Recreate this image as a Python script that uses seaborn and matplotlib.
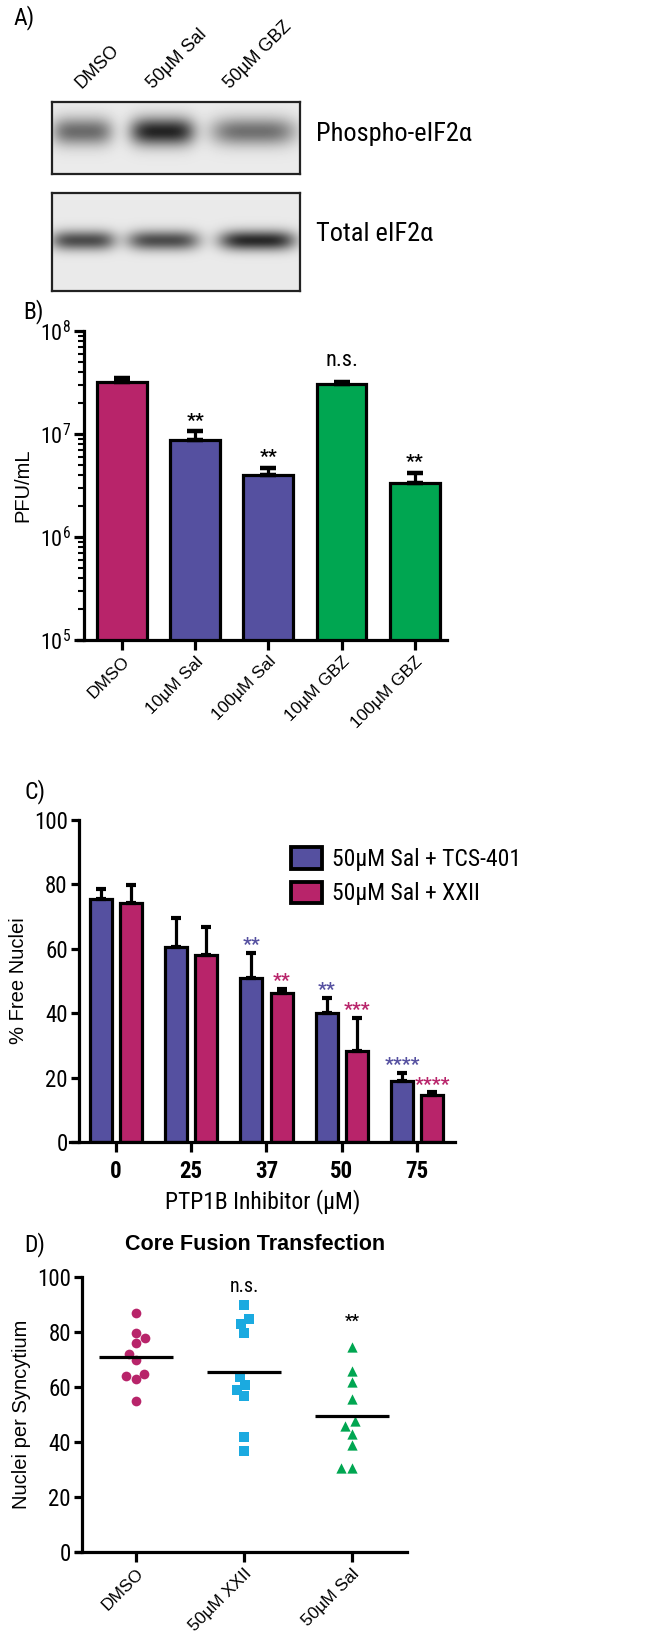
import numpy as np
import pandas as pd
import matplotlib
matplotlib.use("Agg")
import matplotlib.pyplot as plt
import seaborn as sns
from matplotlib.ticker import LogLocator, NullFormatter

sns.set_theme(style="white")
NARROW = ['Roboto Condensed', 'DejaVu Sans']
REG = ['Liberation Sans', 'DejaVu Sans']
plt.rcParams['font.family'] = NARROW
plt.rcParams['font.weight'] = 'normal'
plt.rcParams['mathtext.fontset'] = 'custom'
plt.rcParams['mathtext.rm'] = 'Roboto Condensed'
plt.rcParams['axes.edgecolor'] = 'black'
plt.rcParams['text.color'] = 'black'
plt.rcParams['xtick.color'] = 'black'
plt.rcParams['ytick.color'] = 'black'
plt.rcParams['axes.labelcolor'] = 'black'

MAG = '#B8246A'
BLUE = '#5550A0'
GREEN = '#00A651'
CYAN = '#1BAAE0'

# ---------------- data ----------------
# Panel A (western blot band intensities, relative)
blot_lanes = ['DMSO', '50µM Sal', '50µM GBZ']
phospho_intensity = [0.50, 0.78, 0.48]
total_intensity = [0.62, 0.62, 0.76]

# Panel B
b_cats = ['DMSO', '10µM Sal', '100µM Sal', '10µM GBZ', '100µM GBZ']
b_vals = [3.2e7, 8.75e6, 4.0e6, 3.05e7, 3.34e6]
b_err = [0.3e7, 1.95e6, 0.7e6, 0.15e7, 0.86e6]
b_colors = [MAG, BLUE, BLUE, GREEN, GREEN]
b_sig = ['', '**', '**', 'n.s.', '**']

# Panel C
c_doses = ['0', '25', '37', '50', '75']
c_series = ['50µM Sal + TCS-401', '50µM Sal + XXII']
c_tcs = [75.5, 60.5, 51.0, 40.0, 19.0]
c_tcs_err = [3.0, 9.0, 7.7, 4.8, 2.5]
c_xxii = [74.2, 58.0, 46.3, 28.3, 14.6]
c_xxii_err = [5.6, 8.8, 1.2, 10.2, 0.9]
c_tcs_sig = ['', '', '**', '**', '****']
c_xxii_sig = ['', '', '**', '***', '****']

# Panel D
d_cats = ['DMSO', '50µM XXII', '50µM Sal']
d_dmso = [86.9, 79.8, 77.9, 76.0, 72.1, 69.7, 64.8, 64.0, 62.8, 54.9]
d_xxii = [89.9, 84.8, 83.0, 79.8, 63.6, 60.8, 59.0, 56.8, 41.8, 36.7]
d_sal = [74.5, 65.8, 61.8, 55.8, 47.6, 45.7, 42.8, 38.8, 30.7, 30.7]
d_sig = ['', 'n.s.', '**']

# ---------------- figure ----------------
W, H = 666, 1651
fig = plt.figure(figsize=(W / 100, H / 100), dpi=100)


def ax_px(l, t, r, b):
    return fig.add_axes([l / W, 1 - b / H, (r - l) / W, (b - t) / H])


LW = 2.3

# ---------------- Panel A ----------------
fig.text(13 / W, 1 - 18 / H, 'A)', fontsize=17, ha='left', va='center')


def blot(ax, w, h, lane_c, lane_hw, band_y, sig_y, intens):
    xx, yy = np.meshgrid(np.arange(w), np.arange(h))
    img = np.full((h, w), 0.92)
    for c, hw, k in zip(lane_c, lane_hw, intens):
        prof = np.exp(-((xx - c) / hw) ** 4) * np.exp(-((yy - band_y) / sig_y) ** 2)
        img -= k * prof
    ax.imshow(img, cmap='gray', vmin=0, vmax=1, aspect='auto', interpolation='bilinear')
    ax.set_xticks([])
    ax.set_yticks([])
    for s in ax.spines.values():
        s.set_linewidth(1.6)
        s.set_color('#222222')


axA1 = ax_px(52, 102, 300, 174)
blot(axA1, 248, 72, [30, 110, 201], [30, 32, 42], 29, 14, phospho_intensity)
axA2 = ax_px(52, 193, 300, 291)
blot(axA2, 248, 98, [31, 111, 205], [32, 36, 38], 47, 10, total_intensity)
fig.text(316 / W, 1 - 134 / H, 'Phospho-eIF2α', fontsize=19, ha='left', va='center')
fig.text(316 / W, 1 - 234 / H, 'Total eIF2α', fontsize=19, ha='left', va='center')
for xc, lab in zip([84, 156, 233], blot_lanes):
    fig.text(xc / W, 1 - 92 / H, lab, family=REG, fontsize=13, rotation=45,
             ha='left', va='bottom', rotation_mode='anchor')

# ---------------- Panel B ----------------
fig.text(23 / W, 1 - 312 / H, 'B)', fontsize=17, ha='left', va='center')
axB = ax_px(78, 331, 447, 640)
dfB = pd.DataFrame({'cat': b_cats, 'val': b_vals})
sns.barplot(data=dfB, x='cat', y='val', hue='cat', palette=b_colors, legend=False,
            width=0.68, edgecolor='black', linewidth=LW, ax=axB, saturation=1)
axB.set_yscale('log')
axB.set_ylim(1e5, 1e8)
axB.set_xlim(-0.60, 4.44)
xs = [p.get_x() + p.get_width() / 2 for p in axB.patches]
axB.errorbar(xs, b_vals, yerr=[np.zeros(len(b_vals)), b_err], fmt='none', ecolor='black',
             elinewidth=LW, capsize=6, capthick=LW * 1.4, zorder=1)
for x, v, e, s in zip(xs, b_vals, b_err, b_sig):
    if s:
        axB.annotate(s, (x, v + e), xytext=(0, 8 if s == 'n.s.' else 1), textcoords='offset points',
                     ha='center', va='bottom', fontsize=16 if s == 'n.s.' else 14,
                     fontweight='normal' if s == 'n.s.' else 'bold')
sns.despine(ax=axB)
axB.spines['left'].set_position(('axes', 0.016))
for s in ['left', 'bottom']:
    axB.spines[s].set_linewidth(LW)
axB.yaxis.set_minor_locator(LogLocator(base=10, subs=np.arange(2, 10), numticks=20))
axB.yaxis.set_minor_formatter(NullFormatter())
axB.set_yticks([1e5, 1e6, 1e7, 1e8])
axB.set_yticklabels([r'$\mathregular{10^{5}}$', r'$\mathregular{10^{6}}$',
                     r'$\mathregular{10^{7}}$', r'$\mathregular{10^{8}}$'], fontsize=16)
axB.tick_params(axis='y', which='major', direction='out', length=7, width=LW, left=True, pad=2)
axB.tick_params(axis='y', which='minor', direction='out', length=4, width=1.5, left=True)
axB.tick_params(axis='x', direction='out', length=7, width=LW, bottom=True, pad=3)
axB.set_xticks(range(len(b_cats)))
axB.set_xticklabels(b_cats, rotation=45, ha='right', rotation_mode='anchor',
                    family=REG, fontsize=12.5)
axB.set_xlabel('')
axB.set_ylabel('PFU/mL', family=REG, fontsize=14.5, labelpad=6)

# ---------------- Panel C ----------------
fig.text(24 / W, 1 - 792 / H, 'C)', fontsize=17, ha='left', va='center')
axC = ax_px(70, 820, 455, 1142)
dfC = pd.DataFrame({'dose': c_doses * 2,
                    'series': [c_series[0]] * 5 + [c_series[1]] * 5,
                    'val': c_tcs + c_xxii})
sns.barplot(data=dfC, x='dose', y='val', hue='series', palette=[BLUE, MAG], width=0.8, gap=0.27,
            edgecolor='black', linewidth=LW, ax=axC, saturation=1)
axC.set_ylim(0, 100)
axC.set_xlim(-0.611, 4.505)
bars = [p for p in axC.patches if p.get_height() > 0][:10]
bx = [p.get_x() + p.get_width() / 2 for p in bars]
vals = c_tcs + c_xxii
errs = c_tcs_err + c_xxii_err
sigs = c_tcs_sig + c_xxii_sig
cols = [BLUE] * 5 + [MAG] * 5
axC.errorbar(bx, vals, yerr=[np.zeros(10), errs], fmt='none', ecolor='black',
             elinewidth=LW, capsize=3.5, capthick=LW * 1.3, zorder=1)
for x, v, e, s, c in zip(bx, vals, errs, sigs, cols):
    if s:
        axC.annotate(s, (x, v + e), xytext=(0, -1), textcoords='offset points',
                     ha='center', va='bottom', fontsize=14, color=c, fontweight='bold')
sns.despine(ax=axC)
axC.spines['left'].set_position(('axes', 0.023))
for s in ['left', 'bottom']:
    axC.spines[s].set_linewidth(LW)
axC.set_yticks([0, 20, 40, 60, 80, 100])
axC.set_yticklabels(['0', '20', '40', '60', '80', '100'], fontsize=16.5)
axC.tick_params(axis='y', direction='out', length=6, width=LW, left=True, pad=2)
axC.tick_params(axis='x', direction='out', length=7, width=LW, bottom=True, pad=6)
axC.set_xticks(range(5))
axC.set_xticklabels(c_doses, fontsize=16.5, fontweight='bold')
axC.set_xlabel('PTP1B Inhibitor (µM)', fontsize=17, labelpad=4)
axC.set_ylabel('% Free Nuclei', family=REG, fontsize=14.5, labelpad=4)
leg = axC.legend(loc='upper left', bbox_to_anchor=(0.575, 0.915), frameon=False, fontsize=17,
                 handlelength=1.3, handleheight=1.0, borderpad=0, borderaxespad=0,
                 handletextpad=0.4, labelspacing=0.45, title=None)
for p in leg.get_patches():
    p.set_linewidth(LW * 1.2)
    p.set_edgecolor('black')

# ---------------- Panel D ----------------
fig.text(24 / W, 1 - 1245 / H, 'D)', fontsize=17, ha='left', va='center')
fig.text(255 / W, 1 - 1245 / H, 'Core Fusion Transfection', family=REG, fontsize=15.5,
         fontweight='bold', ha='center', va='center')
axD = ax_px(76, 1277, 407, 1552)
dfD = pd.DataFrame({'cat': [d_cats[0]] * len(d_dmso) + [d_cats[1]] * len(d_xxii) + [d_cats[2]] * len(d_sal),
                    'val': d_dmso + d_xxii + d_sal})
markers = ['o', 's', '^']
msizes = [7.0, 6.6, 7.4]
dcols = [MAG, CYAN, GREEN]
for cat, m, ms, col in zip(d_cats, markers, msizes, dcols):
    sub = dfD[dfD['cat'] == cat]
    sns.swarmplot(data=sub, x='cat', y='val', order=d_cats, color=col, marker=m, size=ms,
                  linewidth=0, ax=axD)
means = [np.mean(d_dmso), np.mean(d_xxii), np.mean(d_sal)]
axD.hlines(means, np.arange(3) - 0.345, np.arange(3) + 0.345, colors='black', linewidth=LW, zorder=5)
for i, s in enumerate(d_sig):
    if s:
        top = max(dfD[dfD['cat'] == d_cats[i]]['val'])
        axD.annotate(s, (i, top), xytext=(0, 6 if s == 'n.s.' else 13), textcoords='offset points',
                     ha='center', va='bottom', fontsize=14.5 if s == 'n.s.' else 12,
                     fontweight='normal' if s == 'n.s.' else 'bold')
axD.set_ylim(0, 100)
axD.set_xlim(-0.556, 2.509)
sns.despine(ax=axD)
axD.spines['left'].set_position(('axes', 0.018))
for s in ['left', 'bottom']:
    axD.spines[s].set_linewidth(LW)
axD.set_yticks([0, 20, 40, 60, 80, 100])
axD.set_yticklabels(['0', '20', '40', '60', '80', '100'], fontsize=16.5)
axD.tick_params(axis='y', direction='out', length=6, width=LW, left=True, pad=2)
axD.tick_params(axis='x', direction='out', length=7, width=LW, bottom=True, pad=3)
axD.set_xticks(range(3))
axD.set_xticklabels(d_cats, rotation=45, ha='right', rotation_mode='anchor', family=REG, fontsize=12.5)
axD.set_xlabel('')
axD.set_ylabel('Nuclei per Syncytium', family=REG, fontsize=14.5, labelpad=4)

fig.savefig('out.png', dpi=100)
